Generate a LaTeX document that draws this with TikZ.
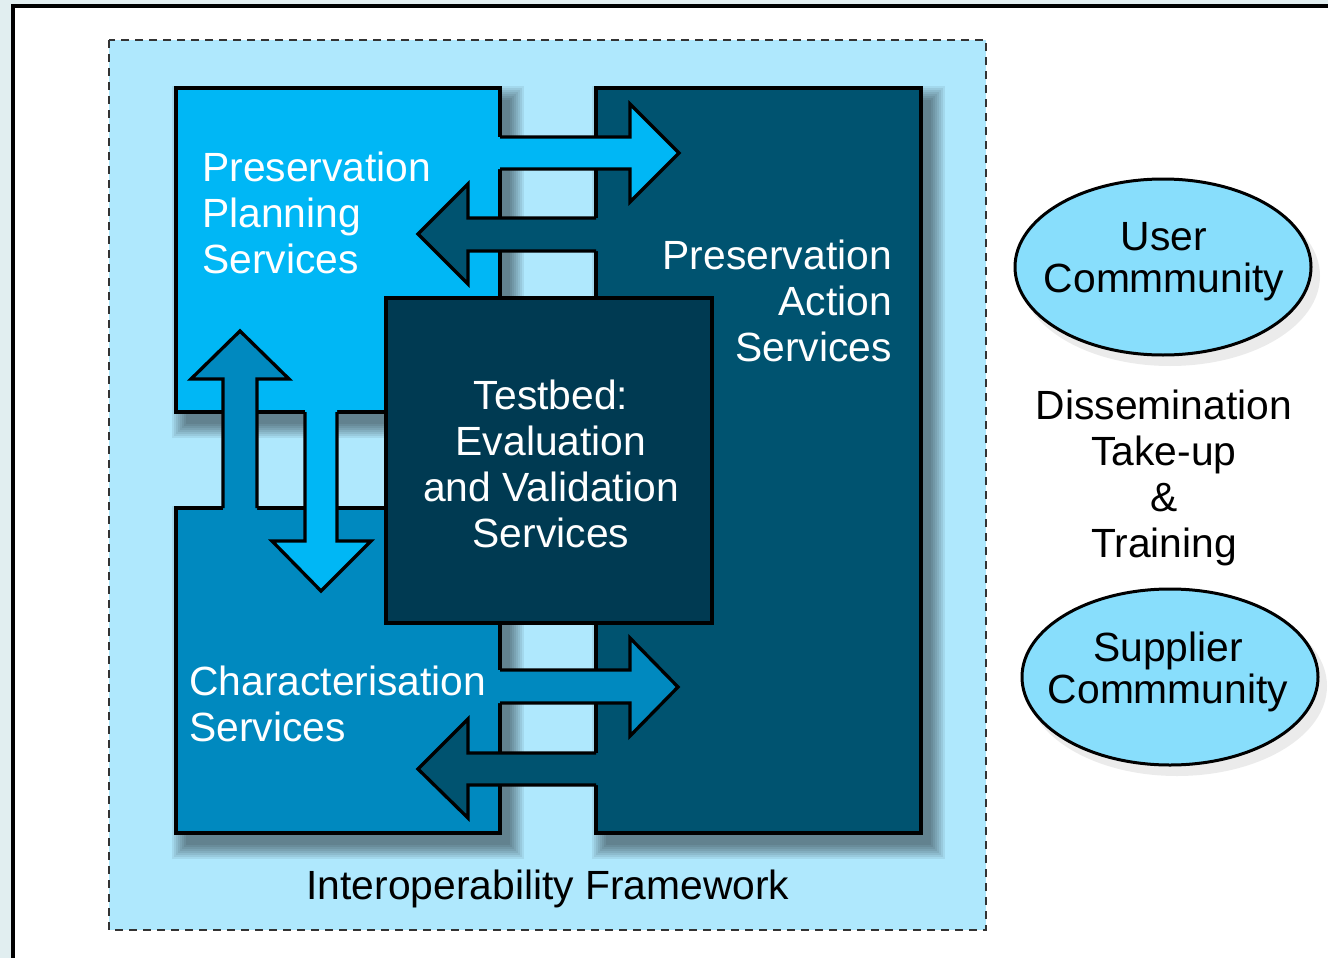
\documentclass[tikz,border=0pt]{standalone}
\usepackage{fontspec}
\setmainfont{Liberation Sans}
\usetikzlibrary{shapes.geometric}
\definecolor{outerbg}{HTML}{E1EEF0}
\definecolor{frameblue}{HTML}{AFE8FD}
\definecolor{planc}{HTML}{00B7F5}
\definecolor{charc}{HTML}{0089BF}
\definecolor{actc}{HTML}{005370}
\definecolor{testc}{HTML}{003A52}
\definecolor{ellc}{HTML}{88DEFC}
\definecolor{dashc}{HTML}{333333}
\newcommand\myshadow[4]{%
  \foreach \s in {0,...,7} {%
    \fill[black,opacity=0.065] (#1+10-\s*2,#2+12-\s*2) rectangle (#3+10+\s*2,#4+12+\s*2);
  }%
}
\begin{document}
\begin{tikzpicture}[x=1pt,y=-1pt,
  boxline/.style={draw=black,line width=3.3pt,line join=miter},
  wt/.style={text=white,font=\fontsize{40.8}{46}\selectfont,inner sep=0pt,align=left},
  bt/.style={text=black,font=\fontsize{40.8}{46}\selectfont,inner sep=0pt,align=center},
  ct/.style={text=black,font=\fontsize{40.8}{42}\selectfont,inner sep=0pt,align=center},
  comm/.style={ellipse,draw=black,line width=3pt,fill=ellc,inner sep=0pt,minimum width=296pt,minimum height=176pt}]
\useasboundingbox (0,0) rectangle (1328,958);
\clip (0,0) rectangle (1328,958);
\fill[outerbg] (0,0) rectangle (1328,958);
\draw[fill=white,line width=4pt] (13,6.5) rectangle (1400,1000);

% framework
\draw[fill=frameblue,draw=dashc,line width=2.5pt,dash pattern=on 8pt off 6pt] (109,40) rectangle (986,930);
\node[bt,anchor=base] (iof) at (548,899) {Interoperability Framework};

% shadows
\myshadow{176}{88}{500}{412}
\myshadow{176}{508}{500}{833}
\myshadow{596}{88}{921}{833}

% boxes
\draw[boxline,fill=planc] (176,88) rectangle (500,412);
\draw[boxline,fill=charc] (176,508) rectangle (500,833);
\draw[boxline,fill=actc] (596,88) rectangle (921,833);
\draw[boxline,fill=testc] (386,298) rectangle (712,623);

% top right arrow (planning -> action)
\fill[planc] (496,137) -- (630,137) -- (630,104) -- (679,153) -- (630,202) -- (630,169) -- (496,169) -- cycle;
\draw[boxline] (500,137) -- (630,137) -- (630,104) -- (679,153) -- (630,202) -- (630,169) -- (500,169);
% top left arrow (action -> planning)
\fill[actc] (600,218) -- (468,218) -- (468,184) -- (418,234) -- (468,284) -- (468,251) -- (600,251) -- cycle;
\draw[boxline] (596,218) -- (468,218) -- (468,184) -- (418,234) -- (468,284) -- (468,251) -- (596,251);
% bottom right arrow (characterisation -> action)
\fill[charc] (496,670) -- (630,670) -- (630,638) -- (678,687) -- (630,736) -- (630,703) -- (496,703) -- cycle;
\draw[boxline] (500,670) -- (630,670) -- (630,638) -- (678,687) -- (630,736) -- (630,703) -- (500,703);
% bottom left arrow (action -> characterisation)
\fill[actc] (600,753) -- (468,753) -- (468,719) -- (418,769) -- (468,818) -- (468,785) -- (600,785) -- cycle;
\draw[boxline] (596,753) -- (468,753) -- (468,719) -- (418,769) -- (468,818) -- (468,785) -- (596,785);
% up arrow (characterisation -> planning)
\fill[charc] (223,512) -- (223,379) -- (191,379) -- (240,331) -- (289,379) -- (257,379) -- (257,512) -- cycle;
\draw[boxline] (223,508) -- (223,379) -- (191,379) -- (240,331) -- (289,379) -- (257,379) -- (257,508);
% down arrow (planning -> characterisation)
\fill[planc] (305,408) -- (305,541) -- (272,541) -- (321,591) -- (371,541) -- (337,541) -- (337,408) -- cycle;
\draw[boxline] (305,412) -- (305,541) -- (272,541) -- (321,591) -- (371,541) -- (337,541) -- (337,412);

% box texts (anchor = baseline of last line)
\node[wt,anchor=base west] (ppl) at (202,273) {Preservation\\Planning\\Services};
\node[wt,anchor=base east,align=right] (pas) at (892,361) {Preservation\\Action\\Services};
\node[wt,anchor=base,align=center] (tbt) at (551,547) {Testbed:\\Evaluation\\and Validation\\Services};
\node[wt,anchor=base west] (chs) at (189,741) {Characterisation\\Services};

% communities
\fill[black,opacity=0.08] (1170,276) ellipse [x radius=150, y radius=90];
\fill[black,opacity=0.08] (1177,686) ellipse [x radius=150, y radius=90];
\node[comm] (uc) at (1163,267) {};
\node[ct,anchor=base] (uct) at (1164,292) {User\\Commmunity};
\node[comm] (sc) at (1170,677) {};
\node[ct,anchor=base] (sct) at (1168,703) {Supplier\\Commmunity};
\node[bt,anchor=base] (dtt) at (1164,557) {Dissemination\\Take-up\\\&\\Training};
\end{tikzpicture}
\end{document}
